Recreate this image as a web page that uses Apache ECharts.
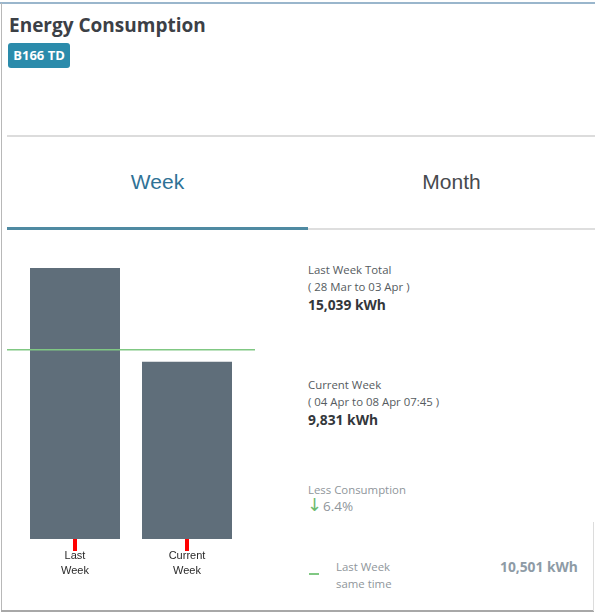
<!DOCTYPE html>
<html>
<head>
<meta charset="utf-8">
<script src="https://cdn.jsdelivr.net/npm/echarts@6/dist/echarts.min.js"></script>
<style>
  html, body { margin: 0; padding: 0; background: #fff; }
  body { width: 595px; height: 613px; position: relative; overflow: hidden; font-family: "Open Sans", sans-serif; }
  .abs { position: absolute; white-space: nowrap; }
  #card-top { left: 0; top: 2px; width: 595px; height: 2px; background: #9ab6cc; }
  #card-left { left: 1px; top: 3px; width: 1px; height: 608px; background: #b8b8b8; }
  #card-bottom { left: 1px; top: 610px; width: 593px; height: 2px; background: #a8a8a8; }
  #card-right { left: 593px; top: 522px; width: 1px; height: 89px; background: #dcdcdc; }
  #title { left: 9px; top: 12px; font-size: 19px; font-weight: 700; color: #3c4046; }
  #badge { left: 8px; top: 43px; width: 62px; height: 25px; background: #2b8bab; border-radius: 3px;
           color: #fff; font-size: 13px; font-weight: 700; line-height: 25px; text-align: center; }
  #divider { left: 7px; top: 135px; width: 588px; height: 2px; background: #dcdcdc; }
  .tab { top: 170px; font-family: "Liberation Sans", Arial, sans-serif; font-size: 21px; }
  #tab-week { left: 7px; width: 301px; text-align: center; color: #2f7296; }
  #tab-month { left: 308px; width: 287px; text-align: center; color: #474a4e; }
  #tab-line-on { left: 7px; top: 227px; width: 301px; height: 3px; background: #4f8aa2; }
  #tab-line-off { left: 308px; top: 228px; width: 287px; height: 2px; background: #dedede; }
  #chart { left: 0; top: 250px; width: 300px; height: 340px; }
  .lbl { left: 308px; font-size: 11.4px; color: #555b60; line-height: 17px; }
  .val { left: 308px; font-size: 13.8px; font-weight: 700; color: #33373b; }
  .muted { color: #8f969b; }
</style>
</head>
<body>
<div id="card-top" class="abs"></div>
<div id="card-left" class="abs"></div>
<div id="card-bottom" class="abs"></div>
<div id="card-right" class="abs"></div>

<div id="title" class="abs">Energy Consumption</div>
<div id="badge" class="abs">B166 TD</div>
<div id="divider" class="abs"></div>

<div id="tab-week" class="abs tab">Week</div>
<div id="tab-month" class="abs tab">Month</div>
<div id="tab-line-on" class="abs"></div>
<div id="tab-line-off" class="abs"></div>

<div id="chart" class="abs"></div>

<div class="abs lbl" style="top:261px">Last Week Total<br>( 28 Mar to 03 Apr )</div>
<div class="abs val" id="last-total" style="top:295px"></div>

<div class="abs lbl" style="top:376px">Current Week<br>( 04 Apr to 08 Apr 07:45 )</div>
<div class="abs val" id="cur-total" style="top:410px"></div>

<div class="abs lbl muted" style="top:481px">Less Consumption</div>
<div class="abs" style="left:307px;top:494px;font-size:18px;color:#6dbb6f;font-family:'DejaVu Sans'">&#8595;</div>
<div class="abs muted" id="pct" style="left:323px;top:497px;font-size:13.5px"></div>

<div class="abs" style="left:309px;top:573px;width:10px;height:2px;background:#80c883"></div>
<div class="abs lbl muted" style="left:336px;top:558px">Last Week<br>same time</div>
<div class="abs val" id="same-time" style="left:500px;top:557px;color:#8e9ba6"></div>

<script>
const categories = ['Last\nWeek', 'Current\nWeek'];
const weekValues = [15039, 9831];
const sameTimeValue = 10501;
const lessPercent = 6.4;

const fmt = v => v.toLocaleString('en-US') + ' kWh';
document.getElementById('last-total').textContent = fmt(weekValues[0]);
document.getElementById('cur-total').textContent = fmt(weekValues[1]);
document.getElementById('same-time').textContent = fmt(sameTimeValue);
document.getElementById('pct').textContent = lessPercent + '%';

const chart = echarts.init(document.getElementById('chart'));
const yMax = Math.max(...weekValues);

// bars sit in a narrower grid; the "same time" line spans a wider one
chart.setOption({
  animation: false,
  grid: [
    { left: 19, top: 18, width: 224, height: 271 },
    { left: 7, top: 18, width: 248, height: 271 }
  ],
  xAxis: [
    {
      type: 'category', gridIndex: 0, data: categories,
      axisLine: { show: true, lineStyle: { color: '#5f6e7a', opacity: 0 } },
      axisTick: { show: true, alignWithLabel: true, length: 12, lineStyle: { color: '#ff0000', width: 4 } },
      axisLabel: { color: '#2a2a2a', fontSize: 11, lineHeight: 15, margin: 9, fontFamily: 'Liberation Sans' }
    },
    { type: 'category', gridIndex: 1, data: ['a', 'b'], boundaryGap: false, show: false }
  ],
  yAxis: [
    { type: 'value', gridIndex: 0, min: 0, max: yMax, show: false },
    { type: 'value', gridIndex: 1, min: 0, max: yMax, show: false }
  ],
  series: [
    {
      type: 'bar', xAxisIndex: 0, yAxisIndex: 0, data: weekValues, barWidth: 90,
      itemStyle: { color: '#5f6e7a' }
    },
    {
      type: 'line', xAxisIndex: 1, yAxisIndex: 1, data: [sameTimeValue, sameTimeValue],
      symbol: 'none', lineStyle: { color: '#80c883', width: 1.5 }, z: 5
    }
  ]
});
</script>
</body>
</html>
